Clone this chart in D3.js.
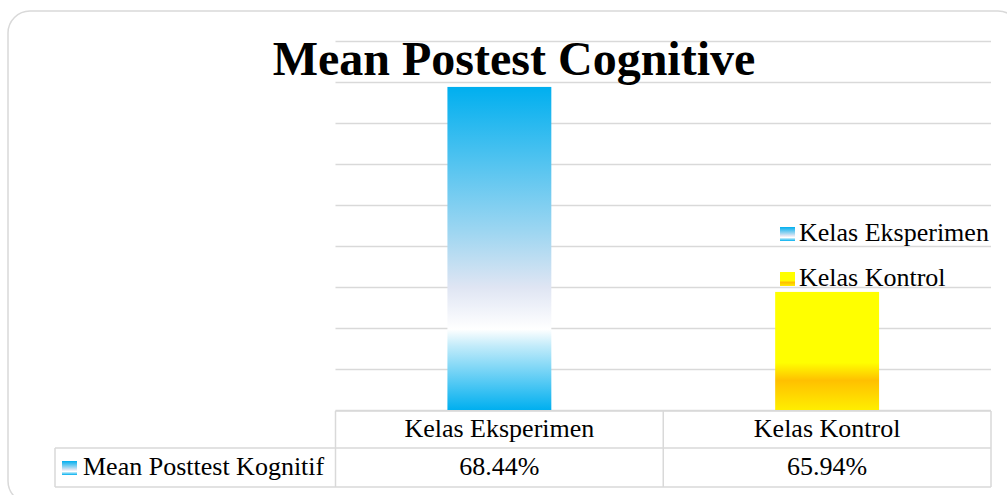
<!DOCTYPE html>
<html>
<head>
<meta charset="utf-8">
<script src="https://cdn.jsdelivr.net/npm/d3@7"></script>
<style>
  body { margin: 0; background: #fff; }
  svg { display: block; font-family: "Liberation Serif", "Times New Roman", serif; }
</style>
</head>
<body>
<div id="chart"></div>
<script>
// data
var categories = ["Kelas Eksperimen", "Kelas Kontrol"];
var values = [68.44, 65.94];
var valueLabels = ["68.44%", "65.94%"];
var seriesName = "Mean Posttest Kognitif";
var yTicks = [64.5, 65, 65.5, 66, 66.5, 67, 67.5, 68, 68.5, 69];

var W = 1007, H = 495;
var plot = {left: 335.5, right: 991, top: 41, bottom: 410};

var svg = d3.select("#chart").append("svg")
    .attr("width", W)
    .attr("height", H);

var defs = svg.append("defs");

// gradients, vertical like the excel fills
function grad(id, stops) {
    var g = defs.append("linearGradient")
        .attr("id", id)
        .attr("x1", 0).attr("y1", 0).attr("x2", 0).attr("y2", 1);
    stops.forEach(function(s) {
        g.append("stop").attr("offset", s[0]).attr("stop-color", s[1]);
    });
}
grad("blueFill", [[0, "#00afef"], [0.45, "#9ed6f1"], [0.62, "#dfe5f3"], [0.75, "#ffffff"], [0.8, "#c4ecfa"], [1, "#00afef"]]);
grad("yellowFill", [[0, "#ffff00"], [0.6, "#ffff00"], [0.75, "#ffc000"], [1, "#ffee00"]]);
var fills = ["url(#blueFill)", "url(#yellowFill)"];

// outer frame
svg.append("rect")
    .attr("x", 8).attr("y", 11)
    .attr("width", 1012).attr("height", 492)
    .attr("rx", 22)
    .attr("fill", "#fff")
    .attr("stroke", "#d9d9d9")
    .attr("stroke-width", 1.5);

var x = d3.scaleBand()
    .domain(categories)
    .range([plot.left, plot.right])
    .paddingInner(0.683)
    .paddingOuter(0.683 / 2);

var y = d3.scaleLinear()
    .domain([64.5, 69])
    .range([plot.bottom, plot.top]);

// gridlines
svg.append("g")
    .attr("transform", "translate(" + plot.left + ",0)")
    .call(d3.axisLeft(y).tickValues(yTicks).tickSize(-(plot.right - plot.left)).tickFormat(""))
    .call(function(g) {
        g.select(".domain").remove();
        g.selectAll("line").attr("stroke", "#d9d9d9").attr("stroke-width", 1.5);
    });

// bars
svg.selectAll(".bar")
    .data(values)
    .enter().append("rect")
    .attr("class", "bar")
    .attr("x", function(d, i) { return x(categories[i]); })
    .attr("y", function(d) { return y(d); })
    .attr("width", x.bandwidth())
    .attr("height", function(d) { return y(64.5) - y(d); })
    .attr("fill", function(d, i) { return fills[i]; });

// title
svg.append("text")
    .attr("x", 514)
    .attr("y", 75)
    .attr("text-anchor", "middle")
    .attr("font-size", 48)
    .attr("font-weight", "bold")
    .text("Mean Postest Cognitive");

// legend
var legend = svg.selectAll(".legend")
    .data(categories)
    .enter().append("g")
    .attr("class", "legend")
    .attr("transform", function(d, i) { return "translate(780," + (241 + i * 45) + ")"; });
legend.append("rect")
    .attr("x", 0).attr("y", -14)
    .attr("width", 15).attr("height", 14)
    .attr("fill", function(d, i) { return fills[i]; });
legend.append("text")
    .attr("x", 19)
    .attr("y", 0)
    .attr("font-size", 26)
    .text(function(d) { return d; });

// data table
var tableLeft = 55, rowTop = 411, rowMid = 448, rowBot = 487;
var tbl = svg.append("g").attr("fill", "none").attr("stroke", "#d9d9d9").attr("stroke-width", 1.5);
tbl.append("line").attr("x1", plot.left).attr("x2", plot.right).attr("y1", rowTop).attr("y2", rowTop);
tbl.append("line").attr("x1", tableLeft).attr("x2", plot.right).attr("y1", rowMid).attr("y2", rowMid);
tbl.append("line").attr("x1", tableLeft).attr("x2", plot.right).attr("y1", rowBot).attr("y2", rowBot);
tbl.append("line").attr("x1", tableLeft).attr("x2", tableLeft).attr("y1", rowMid).attr("y2", rowBot);
var colEdges = [plot.left].concat(categories.map(function(c) { return x(c) - x.step() * x.paddingInner() / 2 + x.step(); }));
tbl.selectAll(".vline")
    .data(colEdges)
    .enter().append("line")
    .attr("x1", function(d) { return d; }).attr("x2", function(d) { return d; })
    .attr("y1", rowTop).attr("y2", rowBot);

svg.selectAll(".colhead")
    .data(categories)
    .enter().append("text")
    .attr("x", function(d) { return x(d) + x.bandwidth() / 2; })
    .attr("y", 437)
    .attr("text-anchor", "middle")
    .attr("font-size", 26)
    .text(function(d) { return d; });

svg.selectAll(".cell")
    .data(valueLabels)
    .enter().append("text")
    .attr("x", function(d, i) { return x(categories[i]) + x.bandwidth() / 2; })
    .attr("y", 475)
    .attr("text-anchor", "middle")
    .attr("font-size", 26)
    .text(function(d) { return d; });

svg.append("rect")
    .attr("x", 62).attr("y", 461)
    .attr("width", 15).attr("height", 14)
    .attr("fill", "url(#blueFill)");
svg.append("text")
    .attr("x", 83)
    .attr("y", 475)
    .attr("font-size", 26)
    .text(seriesName);
</script>
</body>
</html>
